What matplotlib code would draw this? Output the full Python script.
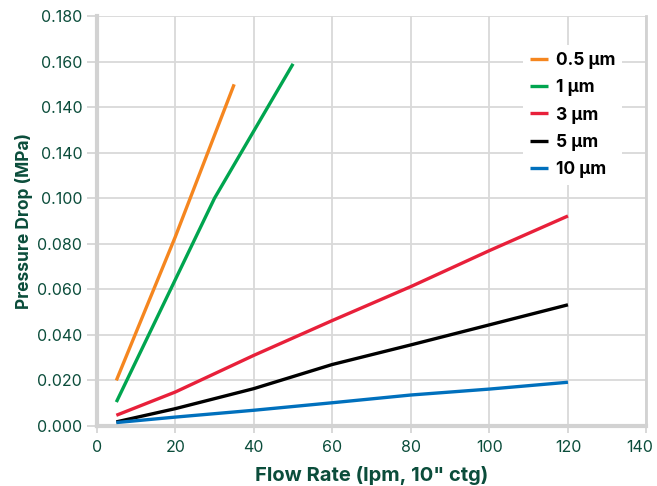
import matplotlib.pyplot as plt
import matplotlib.transforms as mtransforms

# flow rate (lpm) and pressure drop (MPa) per filter rating
flow_05 = [5, 20, 35]
dp_05 = [0.020, 0.083, 0.150]

flow_1 = [5, 30, 50]
dp_1 = [0.0105, 0.100, 0.159]

flow_big = [5, 20, 40, 60, 80, 100, 120]
dp_3 = [0.0047, 0.0149, 0.031, 0.0463, 0.0612, 0.0770, 0.0922]
dp_5 = [0.0018, 0.0076, 0.0164, 0.0270, 0.0356, 0.0444, 0.0532]
dp_10 = [0.0015, 0.0039, 0.0069, 0.0102, 0.0136, 0.0162, 0.0192]

labels = ['0.5 µm', '1 µm', '3 µm', '5 µm', '10 µm']
colors = ['#f5861f', '#00a54f', '#e8203a', '#000000', '#0070bd']

x_ticks = [0, 20, 40, 60, 80, 100, 120, 140]
y_ticks = [0.0, 0.02, 0.04, 0.06, 0.08, 0.10, 0.12, 0.14, 0.16, 0.18]
y_tick_labels = ['0.000', '0.020', '0.040', '0.060', '0.080', '0.100',
                 '0.140', '0.140', '0.160', '0.180']

green_txt = '#0b4d3b'
grid_col = '#d9d9d9'
spine_col = '#d2d2d2'

plt.rcParams['font.family'] = ['Inter', 'DejaVu Sans']

fig = plt.figure(figsize=(6.57, 4.86), dpi=100)
ax = fig.add_axes([0.1472, 0.1235, 0.8368, 0.8436])

series = [(flow_05, dp_05), (flow_1, dp_1), (flow_big, dp_3),
          (flow_big, dp_5), (flow_big, dp_10)]
for (xs, ys), lab, col in zip(series, labels, colors):
    ax.plot(xs, ys, color=col, lw=2.4, label=lab, solid_capstyle='butt', zorder=3)

ax.set_xlim(0, 140)
ax.set_ylim(0, 0.18)
ax.set_xticks(x_ticks)
ax.set_yticks(y_ticks)
ax.set_yticklabels(y_tick_labels)
ax.grid(True, color=grid_col, lw=1.3, zorder=0)
ax.set_axisbelow(True)

ax.spines['top'].set_visible(False)
for s in ['left', 'bottom', 'right']:
    ax.spines[s].set_color(spine_col)
ax.spines['left'].set_linewidth(3)
ax.spines['bottom'].set_linewidth(3)
ax.spines['right'].set_linewidth(2)

ax.tick_params(axis='y', length=7.5, width=1.2, color=spine_col, pad=3,
               labelsize=11.5, labelcolor=green_txt)
ax.tick_params(axis='x', length=5, width=1.2, color=spine_col, pad=5,
               labelsize=11.5, labelcolor=green_txt)

# last x label sits a bit left of its tick so it stays inside the picture
last = ax.get_xticklabels()[-1]
last.set_transform(last.get_transform() +
                   mtransforms.ScaledTranslation(-7 / 100, 0, fig.dpi_scale_trans))

ax.set_xlabel('Flow Rate (lpm, 10" ctg)', fontsize=14.5, fontweight='bold',
              color=green_txt, labelpad=8)
ax.set_ylabel('Pressure Drop (MPa)', fontsize=12.5, fontweight='bold',
              color=green_txt, labelpad=3)

leg = ax.legend(loc='upper right', bbox_to_anchor=(0.971, 0.951), frameon=True,
                fancybox=False, edgecolor='none', facecolor='white', framealpha=1,
                prop={'weight': 'bold', 'size': 12.5}, handlelength=1.0,
                handletextpad=0.45, labelspacing=0.6, borderpad=0.4)

fig.savefig('out.png', dpi=100)
